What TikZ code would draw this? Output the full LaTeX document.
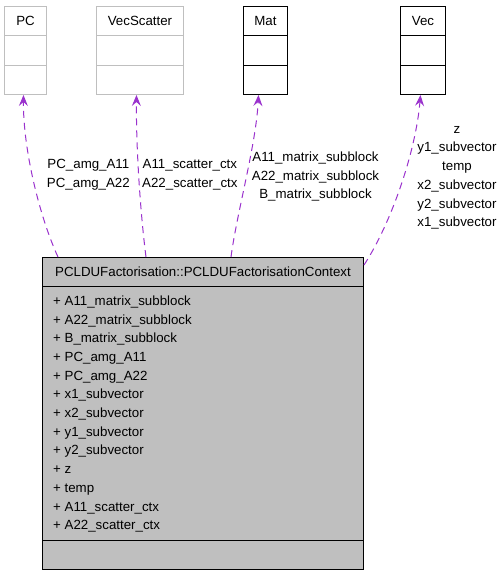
\documentclass[tikz,border=0pt]{standalone}
\usepackage{fontspec}
\setmainfont{Liberation Sans}
\usetikzlibrary{arrows.meta,calc}
\definecolor{boxgray}{HTML}{BFBFBF}
\definecolor{lightborder}{HTML}{BFBFBF}
\definecolor{deppurple}{HTML}{9A32CD}
\begin{document}
\begin{tikzpicture}[x=1pt,y=-1pt,
  every node/.style={font=\fontsize{13.3}{18.7}\selectfont},
  classbox/.style={draw=#1,line width=1pt,fill=white,minimum height=88pt,inner sep=0pt,anchor=north west},
  classtitle/.style={inner sep=0pt,anchor=center},
  dep/.style={draw=deppurple,line width=1pt,dash pattern=on 7pt off 5pt,
    -{Stealth[length=11pt,width=9pt,inset=4pt,sep=0pt]}},
  lbl/.style={inner sep=0pt,align=center}]
\useasboundingbox (0,0) rectangle (503,576);

% upper classes
\node[classbox=lightborder,minimum width=42pt] (pc) at (4,6) {};
\node[classbox=lightborder,minimum width=87pt] (vs) at (96,6) {};
\node[classbox=black,minimum width=44pt] (mat) at (243,6) {};
\node[classbox=black,minimum width=45pt] (vec) at (400,6) {};
\foreach \n/\c in {pc/lightborder,vs/lightborder,mat/black,vec/black}{
  \draw[draw=\c,line width=1pt] ($(\n.north west)+(0,29.5)$) -- ($(\n.north east)+(0,29.5)$);
  \draw[draw=\c,line width=1pt] ($(\n.north west)+(0,59)$) -- ($(\n.north east)+(0,59)$);
}
\node[classtitle] (pct) at ($(pc.north)+(0,14.5)$) {PC};
\node[classtitle] (vst) at ($(vs.north)+(0,14.5)$) {VecScatter};
\node[classtitle] (matt) at ($(mat.north)+(0,14.5)$) {Mat};
\node[classtitle] (vect) at ($(vec.north)+(0,14.5)$) {Vec};

% main class
\node[draw=black,line width=1pt,fill=boxgray,minimum width=321pt,minimum height=312pt,inner sep=0pt,anchor=north west] (main) at (42,257) {};
\draw[line width=1pt] ($(main.north west)+(0,29)$) -- ($(main.north east)+(0,29)$);
\draw[line width=1pt] ($(main.north west)+(0,283)$) -- ($(main.north east)+(0,283)$);
\node[classtitle] (maint) at ($(main.north)+(0,14.5)$) {PCLDUFactorisation::PCLDUFactorisationContext};
\node[inner sep=0pt,anchor=north west,align=left] (attrs) at (53,295.5) {%
+ A11\_matrix\_subblock\\
+ A22\_matrix\_subblock\\
+ B\_matrix\_subblock\\
+ PC\_amg\_A11\\
+ PC\_amg\_A22\\
+ x1\_subvector\\
+ x2\_subvector\\
+ y1\_subvector\\
+ y2\_subvector\\
+ z\\
+ temp\\
+ A11\_scatter\_ctx\\
+ A22\_scatter\_ctx};

% connectors
\coordinate (s1) at ($(main.north west)+(16,0)$);
\coordinate (s2) at ($(main.north west)+(104,0)$);
\coordinate (s3) at ($(main.north west)+(189,0)$);
\coordinate (s4) at ($(main.north east)+(0,8)$);
\draw[dep] (s1) .. controls (40,218) and (23,150) .. ([xshift=-2pt]pc.south);
\draw[dep] (s2) .. controls (140,210) and (136,145) .. ([xshift=-3.5pt]vs.south);
\draw[dep] (s3) .. controls (237,212) and (256,145) .. ([xshift=-7pt]mat.south);
\draw[dep] (s4) .. controls (392,222) and (416,150) .. ([xshift=-2.5pt]vec.south);

% labels
\node[lbl,anchor=north east] (l1) at (130,159.5) {PC\_amg\_A11\\PC\_amg\_A22};
\node[lbl,anchor=north west] (l2) at (142,159.5) {A11\_scatter\_ctx\\A22\_scatter\_ctx};
\node[lbl,anchor=north] (l3) at (315.5,151.5) {A11\_matrix\_subblock\\A22\_matrix\_subblock\\B\_matrix\_subblock};
\node[lbl,anchor=north] (l4) at (457,126) {z\\y1\_subvector\\temp\\x2\_subvector\\y2\_subvector\\x1\_subvector};
\end{tikzpicture}
\end{document}
